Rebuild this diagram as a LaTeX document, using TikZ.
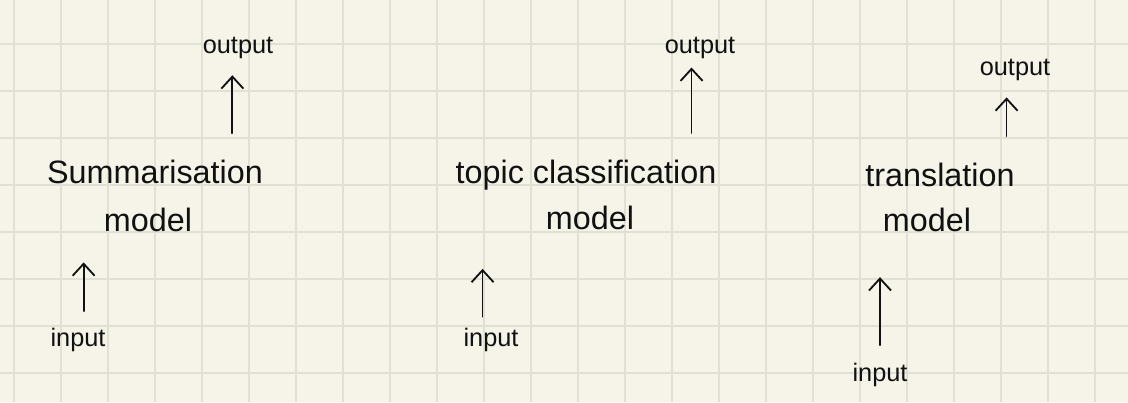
\documentclass[tikz,border=0pt]{standalone}
\usepackage{fontspec}
\setmainfont{Liberation Sans}
\usepackage{tikz}
\usepackage{xcolor}
\usetikzlibrary{arrows.meta,positioning,calc}
\definecolor{notepaper}{HTML}{F6F4E8}
\definecolor{gridline}{HTML}{E1E0D4}
\definecolor{pen}{HTML}{111111}
\tikzset{
  title/.style={text=pen,inner sep=0pt,font=\fontsize{23}{27}\selectfont},
  port/.style={text=pen,inner sep=0pt,font=\fontsize{18}{21}\selectfont},
  penarr/.style={-{Straight Barb[length=3mm,width=5.5mm]},line width=1.3pt,
                 draw=pen,line cap=round}
}

\begin{document}
\begin{tikzpicture}[x=0.025cm,y=-0.025cm]
    \path[use as bounding box,fill=notepaper] (0,0) rectangle (1128,402);
    % squared note paper
    \foreach \gx in {14,61,...,1128}
      \draw[gridline,line width=1.1pt] (\gx,0) -- (\gx,402);
    \foreach \gy in {44,91,...,402}
      \draw[gridline,line width=1.1pt] (0,\gy) -- (1128,\gy);
    % summarisation
    \node[title] (sum) at (155,172) {Summarisation};
    \node[title] (summod) at (148,220) {model};
    \node[port] (sumout) at (238,48) {output};
    \node[port] (sumin) at (78,340) {input};
    \draw[penarr,shorten <=12pt,shorten >=21.5pt]
      ([xshift=4pt]sumin.north) -- ([xshift=4pt]sumin.north |- summod.south);
    \draw[penarr,shorten <=19pt,shorten >=11.5pt]
      ([xshift=-4pt]sumout.south |- sum.north) -- ([xshift=-4pt]sumout.south);
    % topic classification
    \node[title] (topic) at (586,175) {topic classification};
    \node[title] (topicmod) at (590,218) {model};
    \node[port] (topicout) at (700,48) {output};
    \node[port] (topicin) at (491,340) {input};
    \draw[penarr,shorten <=8pt,shorten >=27.5pt]
      ([xshift=-6pt]topicin.north) -- ([xshift=-6pt]topicin.north |- topicmod.south);
    \draw[penarr,shorten <=19pt,shorten >=6pt]
      ([xshift=-6pt]topicout.south |- topic.north) -- ([xshift=-6pt]topicout.south);
    % translation
    \node[title] (trans) at (940,175) {translation};
    \node[title] (transmod) at (927,220) {model};
    \node[port] (transout) at (1015,70) {output};
    \node[port] (transin) at (880,375) {input};
    \draw[penarr,shorten <=12.6pt,shorten >=32pt]
      (transin.north) -- (transin.north |- transmod.south);
    \draw[penarr,shorten <=19pt,shorten >=11.6pt]
      ([xshift=-6pt]transout.south |- trans.north) -- ([xshift=-6pt]transout.south);
\end{tikzpicture}
\end{document}
